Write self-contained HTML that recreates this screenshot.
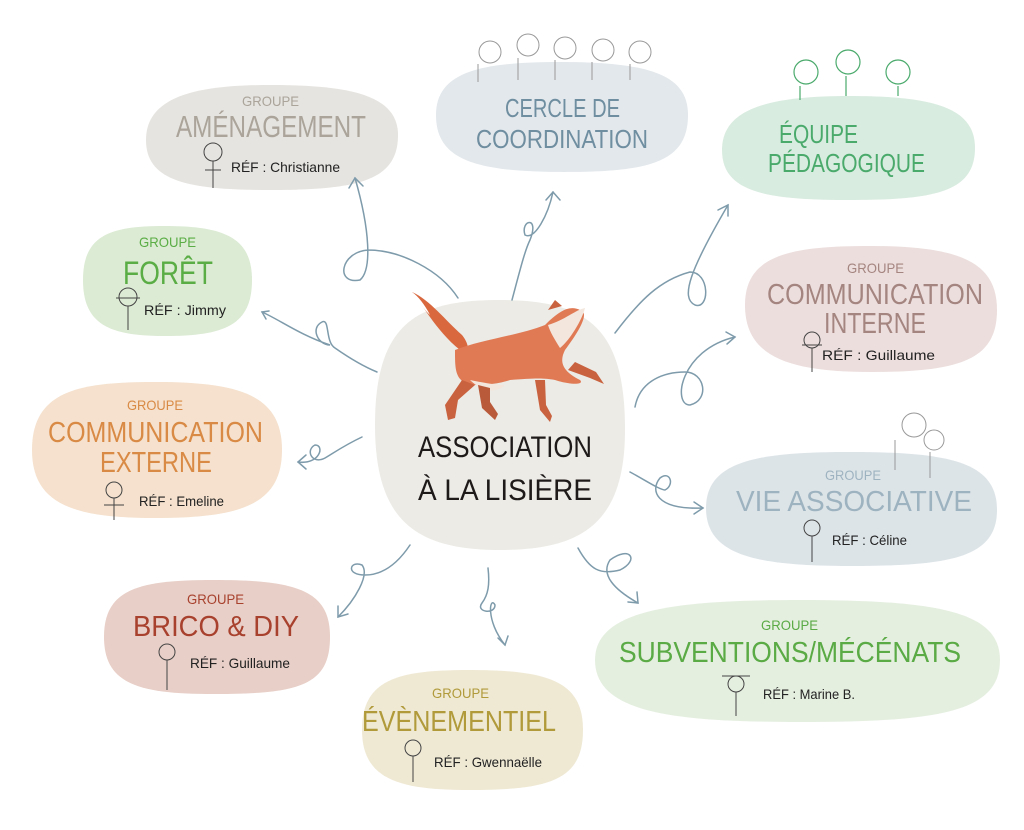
<!DOCTYPE html>
<html><head><meta charset="utf-8"><style>
html,body{margin:0;padding:0;background:#fff;}
svg{display:block;}
text{font-family:"Liberation Sans",sans-serif;}
</style></head><body>
<svg width="1024" height="830" viewBox="0 0 1024 830" xmlns="http://www.w3.org/2000/svg">
<!-- blobs -->
<path d="M146,140 C146,95 200,85 270,85 C350,85 398,95 398,135 C398,180 360,190 270,190 C190,190 146,182 146,140Z" fill="#e6e4e0"/>
<path d="M436,115 C436,72 480,62 560,62 C650,62 688,75 688,115 C688,162 650,172 565,172 C475,172 436,160 436,115Z" fill="#e3e8ec"/>
<path d="M722,150 C722,108 770,96 850,96 C935,96 975,108 975,148 C975,192 935,200 850,200 C765,200 722,192 722,150Z" fill="#d9ece0"/>
<path d="M83,280 C83,235 110,226 165,226 C225,226 252,238 252,280 C252,325 225,336 165,336 C110,336 83,325 83,280Z" fill="#dcebd4"/>
<path d="M745,305 C745,255 790,246 870,246 C960,246 997,262 997,310 C997,360 960,372 870,372 C785,372 745,355 745,305Z" fill="#ecdedd"/>
<path d="M32,450 C32,390 80,382 155,382 C240,382 282,395 282,450 C282,505 240,518 155,518 C75,518 32,505 32,450Z" fill="#f5e1cd"/>
<path d="M375,425 C375,320 420,300 500,300 C590,300 625,330 625,430 C625,525 580,550 500,550 C415,550 375,520 375,425Z" fill="#ecebe6"/>
<path d="M706,508 C706,460 760,452 850,452 C950,452 997,462 997,510 C997,558 950,566 850,566 C755,566 706,555 706,508Z" fill="#dde4e8"/>
<path d="M104,637 C104,588 140,580 215,580 C300,580 330,592 330,637 C330,685 300,694 215,694 C140,694 104,685 104,637Z" fill="#e8cfc7"/>
<path d="M595,660 C595,608 680,600 800,600 C940,600 1000,612 1000,660 C1000,712 940,722 800,722 C670,722 595,712 595,660Z" fill="#e5efe0"/>
<path d="M362,730 C362,678 400,670 470,670 C550,670 583,682 583,730 C583,780 550,790 470,790 C400,790 362,780 362,730Z" fill="#efe9d4"/>

<!-- arrows -->
<g fill="none" stroke="#7e9bab" stroke-width="1.5" stroke-linecap="round">
<path d="M458,298 C440,270 400,250 368,250 C340,252 335,285 360,280 C372,270 370,230 355,178"/><path d="M349,188 L355,178 L363,186"/>
<path d="M512,300 C520,270 525,250 530,240 C540,215 520,220 525,235 C535,240 548,215 553,192"/><path d="M546,200 L553,192 L560,200"/>
<path d="M615,333 C640,300 660,280 690,272 C710,272 710,310 695,305 C680,298 690,270 728,205"/><path d="M718,210 L728,205 L728,216"/>
<path d="M635,407 C640,380 665,372 685,372 C705,372 710,400 690,405 C672,405 680,350 735,337"/><path d="M726,332 L735,337 L727,344"/>
<path d="M630,472 C645,480 660,490 665,490 C675,485 670,470 660,478 C650,490 655,510 703,508"/><path d="M694,502 L703,508 L694,514"/>
<path d="M578,548 C590,570 600,575 620,570 C640,560 630,545 610,560 C600,575 615,590 638,603"/><path d="M637,592 L638,603 L628,602"/>
<path d="M488,568 C490,585 488,595 482,603 C475,612 495,615 495,605 C490,595 485,620 505,645"/><path d="M498,638 L505,645 L508,636"/>
<path d="M410,545 C400,560 385,575 365,575 C345,575 350,560 362,565 C370,575 355,600 338,617"/><path d="M338,606 L338,617 L348,614"/>
<path d="M362,437 C345,445 335,452 325,458 C312,465 305,450 315,445 C325,445 320,465 298,462"/><path d="M306,455 L298,462 L306,469"/>
<path d="M377,372 C360,365 345,355 335,348 C325,342 330,318 322,322 C310,328 318,345 330,345 C300,335 280,320 262,312"/><path d="M269,311 L262,312 L266,319"/>
</g>

<!-- fox -->
<g>
<path d="M412,292 C420,300 435,330 460,350 C470,355 470,345 462,335 C445,320 430,300 412,292Z" fill="#d9683f"/>
<path d="M412,292 C418,300 424,310 430,315 C425,305 418,296 412,292Z" fill="#fff"/>
<path d="M455,350 C480,340 520,335 545,325 C560,310 570,305 580,310 C590,312 580,330 565,350 C560,360 560,370 580,380 C585,385 570,385 555,380 C545,378 535,378 510,380 C495,385 480,385 470,385 C455,380 455,370 455,350Z" fill="#e07a55"/>
<path d="M548,325 C565,320 575,310 585,308 C582,320 570,340 560,348 C555,340 550,332 548,325Z" fill="#f3e6dc"/>
<path d="M470,380 C480,390 495,395 505,385 C495,385 480,382 470,380Z" fill="#f3e6dc"/>
<path d="M462,380 L445,405 L448,420 L455,418 L458,400 L475,385Z" fill="#c9623f"/>
<path d="M478,385 L482,408 L495,420 L498,414 L490,402 L490,388Z" fill="#b95a3b"/>
<path d="M535,380 L540,410 L550,422 L552,416 L546,405 L545,380Z" fill="#c9623f"/>
<path d="M568,370 L590,378 L604,384 L596,372 L575,362Z" fill="#c9623f"/>
<path d="M548,310 L555,300 L562,306Z" fill="#c9623f"/>
</g>
<text x="418" y="457" font-size="30" fill="#1e1a1a" textLength="174" lengthAdjust="spacingAndGlyphs">ASSOCIATION</text>
<text x="418" y="500" font-size="30" fill="#1e1a1a" textLength="174" lengthAdjust="spacingAndGlyphs">À LA LISIÈRE</text>

<!-- labels -->
<g font-size="14">
<text x="242" y="106" fill="#aaa49a" textLength="57" lengthAdjust="spacingAndGlyphs">GROUPE</text>
<text x="176" y="137" font-size="31" fill="#aaa49a" textLength="190" lengthAdjust="spacingAndGlyphs">AMÉNAGEMENT</text>
<text x="231" y="172" fill="#222" textLength="109" lengthAdjust="spacingAndGlyphs">RÉF : Christianne</text>

<text x="505" y="117" font-size="26" fill="#6f8ea0" textLength="115" lengthAdjust="spacingAndGlyphs">CERCLE DE</text>
<text x="476" y="148" font-size="26" fill="#6f8ea0" textLength="172" lengthAdjust="spacingAndGlyphs">COORDINATION</text>

<text x="779" y="143" font-size="26" fill="#4aaa6c" textLength="79" lengthAdjust="spacingAndGlyphs">ÉQUIPE</text>
<text x="768" y="172" font-size="26" fill="#4aaa6c" textLength="157" lengthAdjust="spacingAndGlyphs">PÉDAGOGIQUE</text>

<text x="139" y="247" fill="#5aad45" textLength="57" lengthAdjust="spacingAndGlyphs">GROUPE</text>
<text x="123" y="284" font-size="32" fill="#5aad45" textLength="90" lengthAdjust="spacingAndGlyphs">FORÊT</text>
<text x="144" y="315" fill="#222" textLength="82" lengthAdjust="spacingAndGlyphs">RÉF : Jimmy</text>

<text x="847" y="273" fill="#a58580" textLength="57" lengthAdjust="spacingAndGlyphs">GROUPE</text>
<text x="767" y="304" font-size="29" fill="#a58580" textLength="216" lengthAdjust="spacingAndGlyphs">COMMUNICATION</text>
<text x="824" y="333" font-size="29" fill="#a58580" textLength="102" lengthAdjust="spacingAndGlyphs">INTERNE</text>
<text x="822" y="360" fill="#222" textLength="113" lengthAdjust="spacingAndGlyphs">RÉF : Guillaume</text>

<text x="127" y="410" fill="#d98a45" textLength="56" lengthAdjust="spacingAndGlyphs">GROUPE</text>
<text x="48" y="442" font-size="29" fill="#d98a45" textLength="215" lengthAdjust="spacingAndGlyphs">COMMUNICATION</text>
<text x="100" y="472" font-size="29" fill="#d98a45" textLength="112" lengthAdjust="spacingAndGlyphs">EXTERNE</text>
<text x="139" y="506" fill="#222" textLength="85" lengthAdjust="spacingAndGlyphs">RÉF : Emeline</text>

<text x="825" y="480" fill="#9eb3c0" textLength="56" lengthAdjust="spacingAndGlyphs">GROUPE</text>
<text x="736" y="511" font-size="29" fill="#9eb3c0" textLength="236" lengthAdjust="spacingAndGlyphs">VIE ASSOCIATIVE</text>
<text x="832" y="545" fill="#222" textLength="75" lengthAdjust="spacingAndGlyphs">RÉF : Céline</text>

<text x="187" y="604" fill="#a8412e" textLength="57" lengthAdjust="spacingAndGlyphs">GROUPE</text>
<text x="133" y="636" font-size="29" fill="#a8412e" textLength="166" lengthAdjust="spacingAndGlyphs">BRICO &amp; DIY</text>
<text x="190" y="668" fill="#222" textLength="100" lengthAdjust="spacingAndGlyphs">RÉF : Guillaume</text>

<text x="761" y="630" fill="#5aaa45" textLength="57" lengthAdjust="spacingAndGlyphs">GROUPE</text>
<text x="619" y="662" font-size="29" fill="#5aaa45" textLength="342" lengthAdjust="spacingAndGlyphs">SUBVENTIONS/MÉCÉNATS</text>
<text x="763" y="699" fill="#222" textLength="92" lengthAdjust="spacingAndGlyphs">RÉF : Marine B.</text>

<text x="432" y="698" fill="#b09a3a" textLength="57" lengthAdjust="spacingAndGlyphs">GROUPE</text>
<text x="362" y="731" font-size="29" fill="#b09a3a" textLength="194" lengthAdjust="spacingAndGlyphs">ÉVÈNEMENTIEL</text>
<text x="434" y="767" fill="#222" textLength="108" lengthAdjust="spacingAndGlyphs">RÉF : Gwennaëlle</text>
</g>

<!-- stick figures -->
<g fill="none" stroke="#444" stroke-width="1">
<circle cx="213" cy="152" r="9"/><path d="M213,161 L213,188 M205,170 L221,170"/>
<circle cx="128" cy="297" r="9"/><path d="M128,306 L128,330 M116,298 L140,298"/>
<circle cx="812" cy="340" r="8"/><path d="M812,348 L812,372 M802,345 L822,345"/>
<circle cx="114" cy="490" r="8"/><path d="M114,498 L114,520 M104,505 L124,505"/>
<circle cx="812" cy="528" r="8"/><path d="M812,536 L812,562"/>
<circle cx="167" cy="652" r="8"/><path d="M167,660 L167,690"/>
<circle cx="736" cy="684" r="8"/><path d="M736,692 L736,716 M722,676 L750,676"/>
<circle cx="413" cy="748" r="8"/><path d="M413,756 L413,782"/>
</g>
<g fill="none" stroke="#999" stroke-width="1">
<circle cx="490" cy="52" r="11"/><circle cx="528" cy="45" r="11"/><circle cx="565" cy="48" r="11"/><circle cx="603" cy="50" r="11"/><circle cx="640" cy="52" r="11"/>
<path d="M478,64 L478,82 M518,58 L518,80 M555,60 L555,80 M592,62 L592,80 M630,64 L630,80"/>
<circle cx="914" cy="425" r="12"/><circle cx="934" cy="440" r="10"/><path d="M895,440 L895,470 M930,452 L930,478"/>
</g>
<g fill="none" stroke="#4aaa6c" stroke-width="1.2">
<circle cx="806" cy="72" r="12"/><circle cx="848" cy="62" r="12"/><circle cx="898" cy="72" r="12"/>
<path d="M800,86 L800,100 M846,76 L846,96 M898,86 L898,96"/>
</g>
</svg>
</body></html>
